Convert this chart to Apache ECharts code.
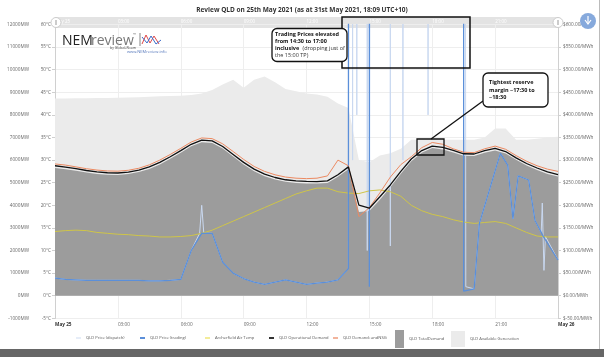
<!DOCTYPE html>
<html><head><meta charset="utf-8">
<script src="https://cdn.jsdelivr.net/npm/echarts@6/dist/echarts.min.js"></script>
<style>html,body{margin:0;padding:0;background:#fff}#c{width:604px;height:357px}</style>
</head><body><div id="c"></div>
<script>
// ---- data (hours since 00:00 on 25 May 2021) ----
const halfHours = [0,0.5,1,1.5,2,2.5,3,3.5,4,4.5,5,5.5,6,6.5,7,7.5,8,8.5,9,9.5,10,10.5,11,11.5,12,12.5,13,13.5,14,14.5,15,15.5,16,16.5,17,17.5,18,18.5,19,19.5,20,20.5,21,21.5,22,22.5,23,23.5,24];
const operationalDemand = [5750,5690,5620,5540,5480,5440,5430,5470,5560,5700,5900,6150,6420,6700,6880,6850,6600,6250,5900,5600,5380,5230,5130,5080,5060,5050,5080,5350,5700,4010,3870,4380,4900,5500,6050,6420,6620,6560,6430,6280,6270,6420,6520,6380,6100,5850,5650,5480,5360];
const demandAndNSG = [5830,5780,5700,5620,5560,5520,5510,5550,5640,5790,6000,6250,6520,6800,6980,6950,6720,6380,6030,5720,5500,5350,5250,5200,5180,5200,5300,6000,5750,3500,3900,4550,5250,5800,6150,6550,6780,6700,6500,6350,6330,6500,6620,6480,6200,5950,5750,5600,5500];
const totalDemand = [5650,5600,5530,5450,5390,5350,5340,5380,5470,5610,5810,6060,6330,6610,6790,6760,6510,6160,5810,5510,5290,5140,5040,4990,4970,4960,4990,5260,5600,3700,3750,4250,4800,5400,5950,6330,6530,6470,6340,6190,6180,6330,6430,6290,6010,5760,5560,5390,5270];
const availableGeneration = [8730,8730,8740,8740,8750,8750,8760,8770,8780,8800,8820,8840,8850,8880,8950,9100,9350,9550,9200,9550,9700,9450,9150,9050,8950,8900,8800,8500,8300,6000,5900,6200,6300,6500,6900,6900,6900,6900,6900,6900,6900,7000,7400,7400,6900,6900,6950,7000,7030];
const airTemp = [14.2,14.4,14.5,14.4,14.0,13.8,13.6,13.5,13.3,13.2,13.0,13.0,13.1,13.3,13.8,14.5,15.5,16.5,17.5,18.5,19.5,20.5,21.5,22.5,23.2,23.8,23.8,23.0,22.7,22.6,23.2,23.4,23.0,22.0,20.0,18.8,18.0,17.5,16.8,16.3,16.0,16.2,16.4,16.0,15.0,14.0,13.2,13.0,13.0];
const tradingTimes = [0,0.5,1,1.5,2,2.5,3,3.5,4,4.5,5,5.5,6,6.5,7,7.5,8,8.5,9,9.5,10,10.5,11,11.5,12,12.5,13,13.5,14,14.08,14.93,15.0,15.08,15.12,19.45,19.5,20,20.25,21.25,21.6,21.85,22.1,22.6,22.9,23.3,24];
const tradingPrice = [39,36,35,34,34,34,34,34,34,33,33,34,36,100,138,138,74,50,38,30,25,30,35,30,25,28,30,35,60,15000,15000,20,20,15000,15000,10,15,160,315,289,170,265,256,167,131,79];
const dispatchTimes = [0,0.5,1,1.5,2,2.5,3,3.5,4,4.5,5,5.5,6,6.5,6.9,7.0,7.1,7.5,8,8.5,9,9.5,10,10.5,11,11.5,12,12.5,13,13.5,14.0,14.1,14.2,14.3,14.4,14.5,14.6,14.9,15.2,15.5,15.9,16.0,16.1,16.4,16.6,16.9,17.2,17.5,17.8,18.1,18.4,18.7,19.0,19.3,19.6,20.0,20.25,21.25,21.6,21.85,22.1,22.6,22.9,23.2,23.25,23.33,23.4,24];
const dispatchPrice = [39,36,35,34,34,34,34,34,34,33,33,34,36,100,138,200,138,138,74,50,38,30,25,30,35,30,25,28,30,35,60,15000,300,15000,400,15000,15000,100,15000,15000,15000,110,15000,15000,300,15000,15000,15000,400,15000,15000,15000,15000,15000,20,15,160,315,289,170,265,256,167,140,205,56,131,79];
// ---- axes ticks ----
const xTicks = {0:'May 25',3:'03:00',6:'06:00',9:'09:00',12:'12:00',15:'15:00',18:'18:00',21:'21:00',24:'May 26'};
const legendLines = ['QLD Price (dispatch)', 'QLD Price (trading)', 'Archerfield Air Temp', 'QLD Operational Demand', 'QLD Demand+andNSG'];

const pair = (t, v) => t.map((x, i) => [x, v[i]]);
const FONT = 'Open Sans';
const chart = echarts.init(document.getElementById('c'), null, {renderer: 'canvas'});
const axisGrey = '#d0d0d0';
const AX = 4.7;
const lgText = {fontSize: 4.1, color: '#555', fontFamily: FONT};
const legendLeft = [76, 140, 205, 269, 333];
const legends = legendLines.map((n, i) => ({
  data: [n], left: legendLeft[i], top: 336, itemWidth: 5, itemHeight: 2, icon: 'rect', textStyle: lgText, padding: 0
}));
legends.push({data: ['QLD TotalDemand'], left: 395, top: 330, itemWidth: 9, itemHeight: 18, icon: 'rect', textStyle: lgText, padding: 0});
legends.push({data: ['QLD Available Generation'], left: 451, top: 331, itemWidth: 14, itemHeight: 16, icon: 'rect', textStyle: lgText, padding: 0});

chart.setOption({
  animation: false,
  backgroundColor: '#fff',
  title: {text: 'Review QLD on 25th May 2021 (as at 31st May 2021, 18:09 UTC+10)', left: 'center', top: 2,
    textStyle: {fontSize: 6.5, fontWeight: 'bold', color: '#333', fontFamily: FONT}},
  grid: {left: 55, right: 46, top: 24.5, bottom: 38.7},
  xAxis: [{
    type: 'value', min: 0, max: 24, interval: 3,
    axisLine: {lineStyle: {color: axisGrey}}, axisTick: {show: false},
    splitLine: {show: true, lineStyle: {color: '#eeeeee', width: 1}},
    axisLabel: {align: 'left', margin: 4, fontSize: AX, color: '#666', fontFamily: FONT,
      formatter: v => (v === 0 || v === 24) ? '{b|' + xTicks[v] + '}' : xTicks[v],
      rich: {b: {fontWeight: 'bold', fontSize: AX, color: '#333', fontFamily: FONT}}}
  }, {
    type: 'value', min: 0, max: 24, interval: 3, position: 'top', offset: 7,
    axisLine: {show: false}, axisTick: {show: false}, splitLine: {show: false},
    axisLabel: {inside: true, align: 'left', margin: 2, fontSize: 4.5, color: '#fff', fontFamily: FONT,
      formatter: v => v === 24 ? '' : xTicks[v]}
  }],
  yAxis: [{
    type: 'value', min: -1000, max: 12000, interval: 1000, position: 'left', offset: 22,
    axisLine: {show: true, lineStyle: {color: axisGrey}}, axisTick: {show: true, length: 3, lineStyle: {color: axisGrey}},
    splitLine: {show: true, lineStyle: {color: '#eeeeee'}},
    axisLabel: {formatter: v => v + 'MW', fontSize: AX, color: '#666', margin: 4, fontFamily: FONT}
  }, {
    type: 'value', min: -5, max: 60, interval: 5, position: 'left', offset: 0,
    axisLine: {show: true, lineStyle: {color: axisGrey}}, axisTick: {show: true, length: 3, lineStyle: {color: axisGrey}},
    splitLine: {show: false},
    axisLabel: {formatter: v => v + '°C', fontSize: AX, color: '#666', margin: 4, fontFamily: FONT}
  }, {
    type: 'value', min: -50, max: 600, interval: 50, position: 'right', offset: 0,
    axisLine: {show: true, lineStyle: {color: axisGrey}}, axisTick: {show: true, length: 3, lineStyle: {color: axisGrey}},
    splitLine: {show: false},
    axisLabel: {formatter: v => '$' + v.toFixed(2) + '/MWh', fontSize: AX, color: '#666', margin: 5, fontFamily: FONT}
  }],
  legend: legends,
  series: [{
    name: 'QLD Available Generation', type: 'line', yAxisIndex: 0, data: pair(halfHours, availableGeneration),
    showSymbol: false, lineStyle: {width: 0}, itemStyle: {color: '#ebebeb'}, areaStyle: {color: '#ebebeb', opacity: 1}, z: 1
  }, {
    name: 'QLD TotalDemand', type: 'line', yAxisIndex: 0, data: pair(halfHours, totalDemand),
    showSymbol: false, lineStyle: {width: 0}, itemStyle: {color: '#9c9c9c'}, areaStyle: {color: '#9c9c9c', opacity: 1}, z: 2
  }, {
    name: 'QLD Price (dispatch)', type: 'line', yAxisIndex: 2, data: pair(dispatchTimes, dispatchPrice),
    showSymbol: false, lineStyle: {width: 1, color: '#c9d8f0'}, itemStyle: {color: '#e6edf8'}, z: 3
  }, {
    name: 'Archerfield Air Temp', type: 'line', yAxisIndex: 1, data: pair(halfHours, airTemp),
    showSymbol: false, lineStyle: {width: 1, color: '#cfc548'}, itemStyle: {color: '#f3ec9a'}, z: 4
  }, {
    name: 'QLD Price (trading)', type: 'line', yAxisIndex: 2, data: pair(tradingTimes, tradingPrice),
    showSymbol: false, lineStyle: {width: 1.3, color: '#5b8fd9'}, itemStyle: {color: '#5b8fd9'}, z: 5
  }, {
    name: 'QLD Demand+andNSG', type: 'line', yAxisIndex: 0, data: pair(halfHours, demandAndNSG),
    showSymbol: false, lineStyle: {width: 1, color: '#ec8a62'}, itemStyle: {color: '#f2b49c'}, z: 6
  }, {
    name: 'QLD Operational Demand', type: 'line', yAxisIndex: 0, data: pair(halfHours, operationalDemand),
    showSymbol: false, lineStyle: {width: 1.3, color: '#111'}, itemStyle: {color: '#333'}, z: 7
  }],
  graphic: [
    // top navigator band
    {type: 'rect', shape: {x: 55, y: 17, width: 503, height: 11}, style: {fill: '#e3e3e3'}, z: 0, silent: true},
    {type: 'circle', shape: {cx: 56, cy: 22.5, r: 5}, style: {fill: '#fff', stroke: '#ccc'}, z: 50},
    {type: 'line', shape: {x1: 56, y1: 20, x2: 56, y2: 25}, style: {stroke: '#999'}, z: 51},
    {type: 'circle', shape: {cx: 558, cy: 22.5, r: 5}, style: {fill: '#fff', stroke: '#ccc'}, z: 50},
    {type: 'line', shape: {x1: 558, y1: 20, x2: 558, y2: 25}, style: {stroke: '#999'}, z: 51},
    // download button
    {type: 'circle', shape: {cx: 588, cy: 21, r: 8}, style: {fill: '#86a9dc'}, z: 50},
    {type: 'polyline', shape: {points: [[585, 20], [588, 24], [591, 20]]}, style: {stroke: '#fff', fill: null, lineWidth: 1.2}, z: 51},
    {type: 'line', shape: {x1: 588, y1: 16, x2: 588, y2: 24}, style: {stroke: '#fff', lineWidth: 1.2}, z: 51},
    // logo
    {type: 'text', x: 62, y: 34, style: {text: 'NEM', font: '14px "Open Sans"', fill: '#222'}, z: 50},
    {type: 'text', x: 91, y: 34, style: {text: 'review', font: '14px "Open Sans"', fill: '#777'}, z: 50},
    {type: 'text', x: 133, y: 33, style: {text: '™', font: '4px "Open Sans"', fill: '#777'}, z: 50},
    {type: 'text', x: 110, y: 46, style: {text: 'by Global-Roam', font: '3.5px "Open Sans"', fill: '#444'}, z: 50},
    {type: 'text', x: 127, y: 50, style: {text: 'www.NEMreview.info', font: '4px "Open Sans"', fill: '#5577bb'}, z: 50},
    {type: 'line', shape: {x1: 140, y1: 33, x2: 140, y2: 46}, style: {stroke: '#666', lineWidth: 0.8}, z: 50},
    {type: 'polyline', shape: {points: [[142, 44], [146, 35], [150, 43], [154, 36], [159, 44]]}, style: {stroke: '#e04848', fill: null, lineWidth: 1}, z: 50},
    {type: 'polyline', shape: {points: [[142, 37], [147, 43], [151, 36], [156, 44], [161, 40]]}, style: {stroke: '#3b6cc9', fill: null, lineWidth: 1}, z: 50},
    // annotation 1
    {type: 'rect', shape: {x: 342, y: 17, width: 128, height: 51}, style: {fill: null, stroke: '#111', lineWidth: 1.5}, z: 60},
    {type: 'rect', shape: {x: 272, y: 28.5, width: 75, height: 33, r: 5}, style: {fill: '#fff', stroke: '#111', lineWidth: 1.3}, z: 61},
    {type: 'text', x: 275, y: 31, style: {rich: {b: {fontWeight: 'bold', fontSize: 5.5, fontFamily: FONT, fill: '#111'}, n: {fontSize: 5.5, fontFamily: FONT, fill: '#333'}},
      text: '{b|Trading Prices elevated}\n{b|from 14:30 to 17:00}\n{b|inclusive} {n|(dropping just of}\n{n|the 15:00 TP)}', lineHeight: 7}, z: 62},
    // annotation 2
    {type: 'rect', shape: {x: 417, y: 139, width: 27, height: 16}, style: {fill: null, stroke: '#111', lineWidth: 1.3}, z: 60},
    {type: 'line', shape: {x1: 431, y1: 139, x2: 483, y2: 101}, style: {stroke: '#111', lineWidth: 1.3}, z: 60},
    {type: 'rect', shape: {x: 483, y: 73, width: 65, height: 34, r: 5}, style: {fill: '#fff', stroke: '#111', lineWidth: 1.3}, z: 61},
    {type: 'text', x: 489, y: 79, style: {rich: {b: {fontWeight: 'bold', fontSize: 5.5, fontFamily: FONT, fill: '#111'}},
      text: '{b|Tightest reserve}\n{b|margin ~17:30 to}\n{b|~18:30}', lineHeight: 7.5}, z: 62},
    // screenshot frame
    {type: 'rect', shape: {x: 0, y: 349, width: 604, height: 8}, style: {fill: '#666'}, z: 70},
    {type: 'line', shape: {x1: 599.5, y1: 0, x2: 599.5, y2: 349}, style: {stroke: '#bbb'}, z: 70}
  ]
});
</script></body></html>
